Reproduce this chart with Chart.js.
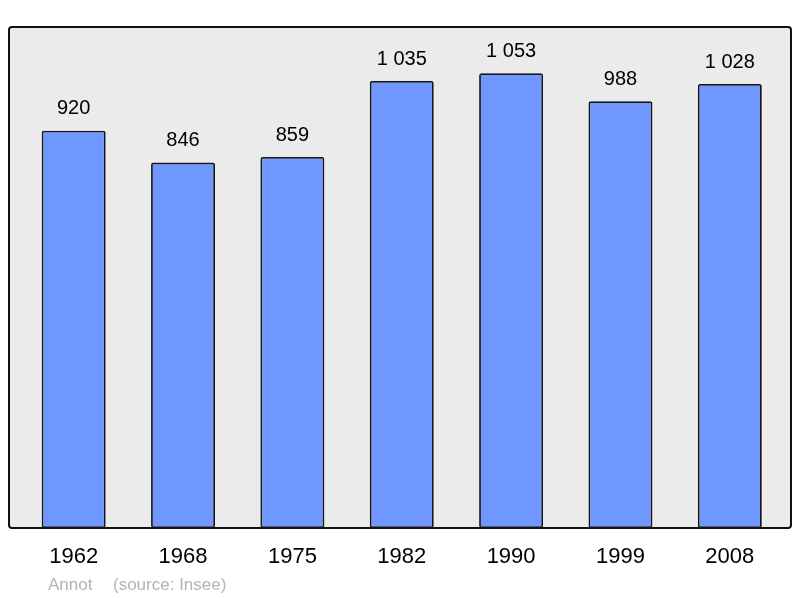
<!DOCTYPE html>
<html>
<head>
<meta charset="utf-8">
<script src="https://cdn.jsdelivr.net/npm/chart.js@4/dist/chart.umd.min.js"></script>
<style>
  html, body { margin: 0; padding: 0; background: #fff; }
  #wrap { width: 800px; height: 598px; }
</style>
</head>
<body>
<div id="wrap"><canvas id="popChart" width="800" height="598"></canvas></div>
<script>
// données (source : Insee)
const years = ['1962', '1968', '1975', '1982', '1990', '1999', '2008'];
const population = [920, 846, 859, 1035, 1053, 988, 1028];
const yMax = 1160;

function fmt(n) {
    return String(n).replace(/\B(?=(\d{3})+(?!\d))/g, ' ');
}

// fond gris + cadre noir autour de la zone
const panelPlugin = {
    id: 'panel',
    beforeDatasetsDraw(chart) {
        const ctx = chart.ctx;
        const a = chart.chartArea;
        const x0 = 9, x1 = 791;
        ctx.save();
        ctx.beginPath();
        ctx.roundRect(x0, a.top, x1 - x0, a.bottom - a.top, 3);
        ctx.fillStyle = '#ebebeb';
        ctx.fill();
        ctx.restore();
    },
    afterDatasetsDraw(chart) {
        const ctx = chart.ctx;
        const a = chart.chartArea;
        const x0 = 9, x1 = 791;
        ctx.save();
        ctx.beginPath();
        ctx.roundRect(x0, a.top, x1 - x0, a.bottom - a.top, 3);
        ctx.lineWidth = 2;
        ctx.strokeStyle = '#111';
        ctx.stroke();

        // valeurs au-dessus des barres
        const meta = chart.getDatasetMeta(0);
        ctx.fillStyle = '#000';
        ctx.font = '20px "Liberation Sans", Arial, sans-serif';
        ctx.textAlign = 'center';
        ctx.textBaseline = 'middle';
        meta.data.forEach((bar, i) => {
            ctx.fillText(fmt(population[i]), bar.x, bar.y - 22);
        });

        // note en bas
        ctx.fillStyle = '#b4b4b4';
        ctx.font = '17px "Liberation Sans", Arial, sans-serif';
        ctx.textAlign = 'left';
        ctx.fillText('Annot', 48, 585);
        ctx.fillText('(source: Insee)', 113, 585);
        ctx.restore();
    }
};

new Chart(document.getElementById('popChart').getContext('2d'), {
    type: 'bar',
    data: {
        labels: years,
        datasets: [{
            data: population,
            backgroundColor: '#7096ff',
            borderColor: '#151515',
            borderWidth: 1.8,
            borderRadius: 2,
            borderSkipped: false,
            barPercentage: 0.585,
            categoryPercentage: 1.0
        }]
    },
    options: {
        responsive: false,
        animation: false,
        devicePixelRatio: 1,
        layout: {
            padding: { left: 19, right: 15.5, top: 27, bottom: 11.6 }
        },
        scales: {
            x: {
                grid: { display: false, drawTicks: false },
                border: { display: false },
                ticks: {
                    color: '#000',
                    font: { family: '"Liberation Sans", Arial, sans-serif', size: 22 },
                    padding: 16,
                    maxRotation: 0
                }
            },
            y: {
                display: false,
                min: 0,
                max: yMax
            }
        },
        plugins: {
            legend: { display: false },
            tooltip: { enabled: false }
        }
    },
    plugins: [panelPlugin]
});
</script>
</body>
</html>
